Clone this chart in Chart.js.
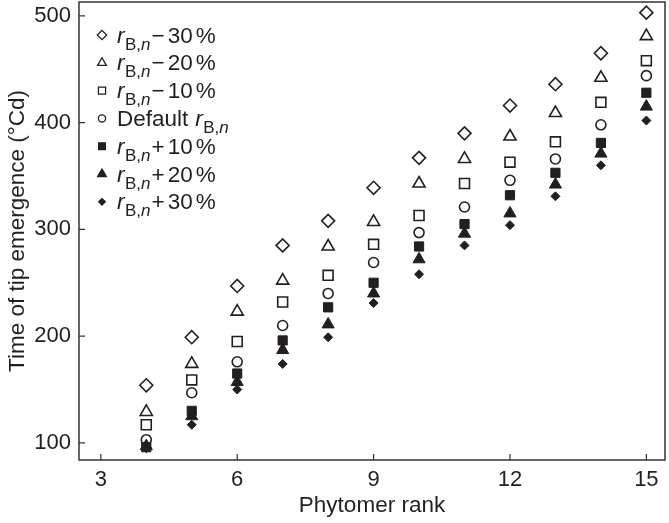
<!DOCTYPE html>
<html lang="en">
<head>
    <meta charset="UTF-8">
    <title>Time of tip emergence vs phytomer rank</title>
    <script src="https://cdn.jsdelivr.net/npm/chart.js"></script>
    <style>
        body { margin: 0; background: #fff; }
        #chart { display: block; }
    </style>
</head>
<body>
    <canvas id="chart" width="669" height="523"></canvas>

    <script>
        // phytomer ranks
        const ranks = [4, 5, 6, 7, 8, 9, 10, 11, 12, 13, 14, 15];

        // time of tip emergence (°Cd) per scenario
        const minus30 = [154, 199, 247, 285, 308, 339, 367, 390, 416, 436, 465, 503];
        const minus20 = [129, 174, 223, 252, 284, 307, 343, 366, 387, 409, 442, 481];
        const minus10 = [117, 159, 195, 232, 257, 286, 313, 343, 363, 382, 419, 458];
        const defaultRb = [103, 147, 176, 210, 240, 269, 297, 321, 346, 366, 398, 444];
        const plus10 = [96, 130, 165, 196, 227, 250, 284, 305, 332, 353, 381, 428];
        const plus20 = [97, 125, 157, 187, 211, 240, 272, 296, 315, 342, 371, 415];
        const plus30 = [95, 117, 150, 174, 199, 231, 258, 285, 304, 331, 360, 402];

        const xTicks = [3, 6, 9, 12, 15];
        const yTicks = [100, 200, 300, 400, 500];

        const ink = '#231f20';
        const font = "'Liberation Sans', Arial, sans-serif";

        function pts(vals) {
            return ranks.map((r, i) => ({ x: r, y: vals[i] }));
        }

        // marker style per series (legend label parts: sign / amount)
        const series = [
            { data: minus30, style: 'rectRot', r: 6.5, fill: false, sign: '\u2212', amount: '30' },
            { data: minus20, style: 'triangle', r: 7, fill: false, sign: '\u2212', amount: '20' },
            { data: minus10, style: 'rect', r: 7, fill: false, sign: '\u2212', amount: '10' },
            { data: defaultRb, style: 'circle', r: 5, fill: false, sign: null, amount: null },
            { data: plus10, style: 'rect', r: 6.5, fill: true, sign: '+', amount: '10' },
            { data: plus20, style: 'triangle', r: 7, fill: true, sign: '+', amount: '20' },
            { data: plus30, style: 'rectRot', r: 4.5, fill: true, sign: '+', amount: '30' }
        ];

        // ticks inside the frame + the frame itself
        const framePlugin = {
            id: 'frame',
            afterDraw(chart) {
                const ctx = chart.ctx;
                const a = chart.chartArea;
                const xs = chart.scales.x, ys = chart.scales.y;
                ctx.save();
                ctx.strokeStyle = '#333';
                ctx.lineWidth = 1.5;
                ctx.strokeRect(a.left, a.top, a.right - a.left, a.bottom - a.top);
                ctx.lineWidth = 1.2;
                ctx.beginPath();
                xTicks.forEach(v => {
                    const px = xs.getPixelForValue(v);
                    ctx.moveTo(px, a.bottom);
                    ctx.lineTo(px, a.bottom - 6);
                });
                yTicks.forEach(v => {
                    const py = ys.getPixelForValue(v);
                    ctx.moveTo(a.left, py);
                    ctx.lineTo(a.left + 6, py);
                });
                ctx.stroke();
                ctx.restore();
            }
        };

        // legend with italic r and subscript B,n
        const legendPlugin = {
            id: 'rbLegend',
            afterDraw(chart) {
                const ctx = chart.ctx;
                const mx = 102, tx = 117, y0 = 35, dy = 27.8;
                ctx.save();
                ctx.textBaseline = 'alphabetic';
                series.forEach((s, i) => {
                    const y = y0 + i * dy;
                    ctx.strokeStyle = ink;
                    ctx.fillStyle = s.fill ? ink : 'rgba(0,0,0,0)';
                    ctx.lineWidth = 1.3;
                    Chart.helpers.drawPoint(ctx, {
                        pointStyle: s.style,
                        radius: s.r * 0.72,
                        rotation: 0,
                        borderWidth: 1.3
                    }, mx, y);
                    if (s.fill) ctx.fill();
                    ctx.fillStyle = ink;
                    const base = y + 7.5;
                    let x = tx;
                    if (!s.sign) {
                        ctx.font = '22.5px ' + font;
                        ctx.fillText('Default', x, base);
                        x += ctx.measureText('Default').width + 7;
                    }
                    ctx.font = 'italic 22.5px ' + font;
                    ctx.fillText('r', x, base);
                    x += ctx.measureText('r').width + 0.5;
                    ctx.font = '17px ' + font;
                    ctx.fillText('B,', x, base + 7);
                    x += ctx.measureText('B,').width;
                    ctx.font = 'italic 17px ' + font;
                    ctx.fillText('n', x, base + 7);
                    x += ctx.measureText('n').width + 1;
                    if (s.sign) {
                        ctx.font = '22.5px ' + font;
                        ctx.fillText(s.sign, x, base);
                        x += ctx.measureText(s.sign).width + 3;
                        ctx.fillText(s.amount, x, base);
                        x += ctx.measureText(s.amount).width + 3;
                        ctx.fillText('%', x, base);
                    }
                });
                ctx.restore();
            }
        };

        const datasets = series.map(s => ({
            data: pts(s.data),
            pointStyle: s.style,
            pointRadius: s.r,
            pointBorderWidth: s.fill ? 1 : 1.6,
            pointBorderColor: ink,
            pointBackgroundColor: s.fill ? ink : 'rgba(0,0,0,0)',
            showLine: false
        }));

        new Chart(document.getElementById('chart').getContext('2d'), {
            type: 'scatter',
            data: { datasets: datasets },
            options: {
                responsive: false,
                animation: false,
                devicePixelRatio: 1,
                layout: { autoPadding: false, padding: { left: 0, right: 4, top: 2, bottom: 0 } },
                plugins: { legend: { display: false }, tooltip: { enabled: false } },
                scales: {
                    x: {
                        type: 'linear',
                        min: 2.52,
                        max: 15.41,
                        afterBuildTicks: s => { s.ticks = xTicks.map(v => ({ value: v })); },
                        afterFit: s => { s.height = 63; s.paddingLeft = 0; s.paddingRight = 0; },
                        grid: { display: false, drawTicks: false },
                        border: { display: false },
                        ticks: { color: ink, font: { family: font, size: 22 }, padding: 7, maxRotation: 0 },
                        title: {
                            display: true, text: 'Phytomer rank', color: ink,
                            font: { family: font, size: 22.5, lineHeight: 1 }, padding: { top: 0, bottom: 6 }
                        }
                    },
                    y: {
                        min: 84,
                        max: 513,
                        afterBuildTicks: s => { s.ticks = yTicks.map(v => ({ value: v })); },
                        afterFit: s => { s.width = 79; s.paddingTop = 0; s.paddingBottom = 0; },
                        grid: { display: false, drawTicks: false },
                        border: { display: false },
                        ticks: { color: ink, font: { family: font, size: 22 }, padding: 8 },
                        title: {
                            display: true, text: 'Time of tip emergence (\u00b0Cd)', color: ink,
                            font: { family: font, size: 22.5, lineHeight: 1 }, padding: { top: 7, bottom: 0 }
                        }
                    }
                }
            },
            plugins: [framePlugin, legendPlugin]
        });
    </script>
</body>
</html>
